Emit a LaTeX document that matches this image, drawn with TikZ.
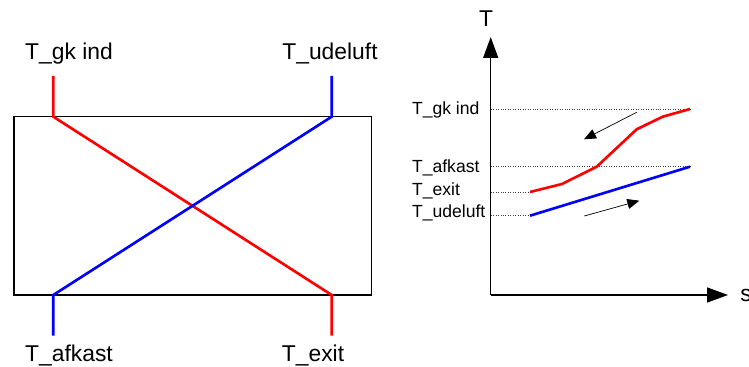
\documentclass[tikz,border=0pt]{standalone}
\usepackage{fontspec}
\setmainfont{Liberation Sans}
\usetikzlibrary{arrows.meta}

\begin{document}
\begin{tikzpicture}[x=0.02cm, y=-0.02cm, >=Stealth,
  hot/.style={red, line width=1.5pt},
  cold/.style={blue, line width=1.5pt},
  lbl/.style={font=\fontsize{13}{15}\selectfont, inner sep=0pt, anchor=base},
  tk/.style={font=\fontsize{10}{12}\selectfont, inner sep=0pt, anchor=base west},
  guide/.style={black!75, densely dotted, line width=0.4pt},
  axis/.style={line width=0.8pt, -{Triangle[length=0.42cm,width=0.3cm]}},
  flow/.style={line width=0.4pt, -{Triangle[length=0.24cm,width=0.2cm]}}]
\useasboundingbox (0,0) rectangle (749,367);
% heat exchanger
\draw[line width=0.8pt] (14,116.7) rectangle (371.7,295);
\coordinate (gkin) at (53.3,76);   \coordinate (gka) at (53.3,116.7);
\coordinate (udin) at (331.7,76);  \coordinate (uda) at (331.7,116.7);
\coordinate (afk) at (53.3,335.7); \coordinate (afa) at (53.3,295);
\coordinate (exo) at (331.7,335.7);\coordinate (exa) at (331.7,295);
\draw[hot] (gkin) -- (gka) -- (exa) -- (exo);
\draw[cold] (udin) -- (uda) -- (afa) -- (afk);
\node[lbl] (ngk) at (69,60) {T\_gk ind};
\node[lbl] (nud) at (330,60) {T\_udeluft};
\node[lbl] (naf) at (69,361) {T\_afkast};
\node[lbl] (nex) at (313,361) {T\_exit};
% temperature diagram
\coordinate (o) at (490.7,295);
\coordinate (ty) at (490.7,37);
\coordinate (sx) at (728,295);
\draw[axis] (o) -- (ty);
\draw[axis] (o) -- (sx);
\node[lbl] (tlab) at (486,27) {T};
\node[lbl, anchor=base west] (slab) at (740,301.7) {s};
\node[tk] (tgk) at (411.7,115) {T\_gk ind};
\node[tk] (taf) at (411.7,172.7) {T\_afkast};
\node[tk] (tex) at (411.7,196) {T\_exit};
\node[tk] (tud) at (411.7,217.3) {T\_udeluft};
\coordinate (h0) at (530,192);
\coordinate (h1) at (562,184);
\coordinate (h2) at (596.7,166.7);
\coordinate (h3) at (636.7,129.3);
\coordinate (h4) at (662.7,116.7);
\coordinate (h5) at (690,109);
\coordinate (c0) at (530,215.7);
\coordinate (c1) at (690,166.7);
\draw[guide] (490.7,109) -- (h5);
\draw[guide] (490.7,166.7) -- (c1);
\draw[guide] (490.7,192) -- (h0);
\draw[guide] (490.7,215.7) -- (c0);
\draw[hot, line join=round] (h0) -- (h1) -- (h2) -- (h3) -- (h4) -- (h5);
\draw[cold] (c0) -- (c1);
\coordinate (f1a) at (636.7,112.3); \coordinate (f1b) at (584,139.3);
\coordinate (f2a) at (584.3,216);   \coordinate (f2b) at (639.3,200.7);
\draw[flow] (f1a) -- (f1b);
\draw[flow] (f2a) -- (f2b);
\end{tikzpicture}
\end{document}
